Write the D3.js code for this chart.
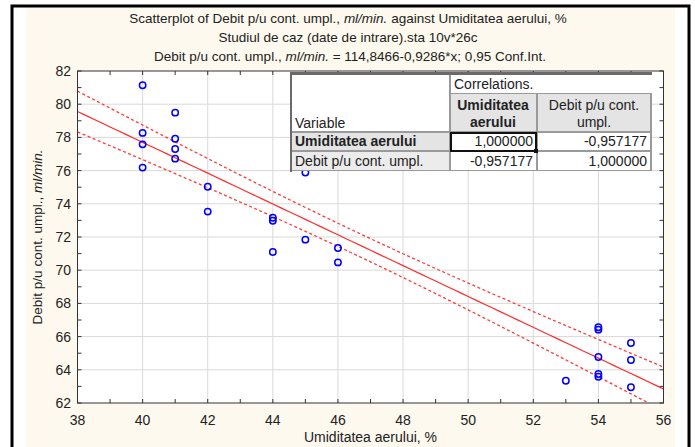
<!DOCTYPE html>
<html>
<head>
<script src="https://cdn.jsdelivr.net/npm/d3@7"></script>
<style>
  body { margin: 0; background: #fff; }
  svg text { font-family: "Liberation Sans", Arial, sans-serif; font-size: 14px; fill: #222; }
  svg text.title { font-size: 13.5px; }
</style>
</head>
<body>
<div id="chart"></div>
<script>
// humidity (x) and flow (y) for the 26 cases
var humidity = [40, 40, 40, 40, 41, 41, 41, 41, 42, 42, 44, 44, 44, 45, 45, 46, 46, 53, 54, 54, 54, 54, 54, 55, 55, 55];
var flow = [81.14, 78.27, 77.58, 76.18, 79.49, 77.92, 77.30, 76.72, 75.03, 73.53, 73.16, 72.98, 71.10, 75.88, 71.84,
            71.34, 70.47, 63.34, 66.56, 66.42, 64.77, 63.75, 63.58, 65.61, 64.59, 62.95];
var fitCoef = [114.8466, -0.9286];   // intercept, slope (from the title)
var xTicks = [38, 40, 42, 44, 46, 48, 50, 52, 54, 56];
var yTicks = [62, 64, 66, 68, 70, 72, 74, 76, 78, 80, 82];

var corrVars = ["Umiditatea aerului", "Debit p/u cont. umpl."];
var corrValues = [["1,000000", "-0,957177"], ["-0,957177", "1,000000"]];

var W = 695, H = 447;
var svg = d3.select("#chart").append("svg").attr("width", W).attr("height", H);

// window frame + cream background
svg.append("rect").attr("x", 0).attr("y", 0).attr("width", W).attr("height", H).attr("fill", "#fff");
svg.append("rect").attr("x", 26).attr("y", 7).attr("width", 649).attr("height", H).attr("fill", "#fdf9ee");
svg.append("rect").attr("x", 12).attr("y", 6).attr("width", 677).attr("height", H + 10)
  .attr("fill", "none").attr("stroke", "#000").attr("stroke-width", 3);

var x = d3.scaleLinear().domain([38, 56]).range([77.5, 663.5]);
var y = d3.scaleLinear().domain([62, 82]).range([403, 71]);

// plot area
svg.append("rect").attr("x", x(38)).attr("y", y(82)).attr("width", x(56) - x(38)).attr("height", y(62) - y(82))
  .attr("fill", "#fff");

// grid
svg.selectAll("line.gx").data(xTicks.slice(1, -1)).enter().append("line").attr("class", "gx")
  .attr("x1", function(d) { return x(d); }).attr("x2", function(d) { return x(d); })
  .attr("y1", y(82)).attr("y2", y(62)).attr("stroke", "#d9d9d9");
svg.selectAll("line.gy").data(yTicks.slice(1, -1)).enter().append("line").attr("class", "gy")
  .attr("y1", function(d) { return y(d); }).attr("y2", function(d) { return y(d); })
  .attr("x1", x(38)).attr("x2", x(56)).attr("stroke", "#d9d9d9");

// inside ticks on all four sides, every unit
var xMinor = d3.range(38, 57), yMinor = d3.range(62, 83);
var tick = 4;
xMinor.forEach(function(v) {
  svg.append("line").attr("x1", x(v)).attr("x2", x(v)).attr("y1", y(62)).attr("y2", y(62) - tick).attr("stroke", "#333");
  svg.append("line").attr("x1", x(v)).attr("x2", x(v)).attr("y1", y(82)).attr("y2", y(82) + tick).attr("stroke", "#333");
});
yMinor.forEach(function(v) {
  svg.append("line").attr("y1", y(v)).attr("y2", y(v)).attr("x1", x(38)).attr("x2", x(38) + tick).attr("stroke", "#333");
  svg.append("line").attr("y1", y(v)).attr("y2", y(v)).attr("x1", x(56)).attr("x2", x(56) - tick).attr("stroke", "#333");
});

// tick labels
svg.selectAll("text.xt").data(xTicks).enter().append("text").attr("class", "xt")
  .attr("x", function(d) { return x(d); }).attr("y", 425).attr("text-anchor", "middle").text(function(d) { return d; });
svg.selectAll("text.yt").data(yTicks).enter().append("text").attr("class", "yt")
  .attr("x", 71).attr("y", function(d) { return y(d) + 5; }).attr("text-anchor", "end").text(function(d) { return d; });

// regression line and 0.95 confidence band
var n = humidity.length;
var mx = d3.mean(humidity);
var sxx = d3.sum(humidity, function(v) { return (v - mx) * (v - mx); });
var sse = d3.sum(humidity, function(v, i) { var r = flow[i] - (fitCoef[0] + fitCoef[1] * v); return r * r; });
var s = Math.sqrt(sse / (n - 2));
var tval = 2.0639;
var xs = d3.range(38, 56.01, 0.25);
function fitAt(v) { return fitCoef[0] + fitCoef[1] * v; }
function halfW(v) { return tval * s * Math.sqrt(1 / n + (v - mx) * (v - mx) / sxx); }

svg.append("clipPath").attr("id", "clip").append("rect")
  .attr("x", x(38)).attr("y", y(82)).attr("width", x(56) - x(38)).attr("height", y(62) - y(82));
var g = svg.append("g").attr("clip-path", "url(#clip)");
var line = d3.line().x(function(d) { return x(d[0]); }).y(function(d) { return y(d[1]); });

g.append("path").attr("d", line(xs.map(function(v) { return [v, fitAt(v)]; })))
  .attr("fill", "none").attr("stroke", "#ff2a2a").attr("stroke-width", 1.2);
[1, -1].forEach(function(sign) {
  g.append("path").attr("d", line(xs.map(function(v) { return [v, fitAt(v) + sign * halfW(v)]; })))
    .attr("fill", "none").attr("stroke", "#ff3a3a").attr("stroke-width", 1.3).attr("stroke-dasharray", "3,2.5");
});

// points
svg.selectAll("circle.pt").data(humidity).enter().append("circle").attr("class", "pt")
  .attr("cx", function(d) { return x(d); })
  .attr("cy", function(d, i) { return y(flow[i]); })
  .attr("r", 3.2).attr("fill", "none").attr("stroke", "#0000ff").attr("stroke-width", 1.5);

// plot frame
svg.append("rect").attr("x", x(38)).attr("y", y(82)).attr("width", x(56) - x(38)).attr("height", y(62) - y(82))
  .attr("fill", "none").attr("stroke", "#333");

// titles
var t = svg.append("g").attr("text-anchor", "middle");
var t1 = t.append("text").attr("class", "title").attr("x", 348).attr("y", 23);
t1.append("tspan").text("Scatterplot of Debit p/u cont. umpl., ");
t1.append("tspan").attr("font-style", "italic").text("ml/min.");
t1.append("tspan").text(" against Umiditatea aerului, %");
t.append("text").attr("class", "title").attr("x", 348).attr("y", 42).text("Studiul de caz (date de intrare).sta 10v*26c");
var t3 = t.append("text").attr("class", "title").attr("x", 350).attr("y", 61);
t3.append("tspan").text("Debit p/u cont. umpl., ");
t3.append("tspan").attr("font-style", "italic").text("ml/min.");
t3.append("tspan").text(" = 114,8466-0,9286*x; 0,95 Conf.Int.");

svg.append("text").attr("x", (x(38) + x(56)) / 2).attr("y", 442).attr("text-anchor", "middle")
  .text("Umiditatea aerului, %");
var yl = svg.append("text").attr("transform", "translate(42," + ((y(62) + y(82)) / 2) + ") rotate(-90)")
  .attr("text-anchor", "middle").style("font-size", "13.5px");
yl.append("tspan").text("Debit p/u cont. umpl.,  ");
yl.append("tspan").attr("font-style", "italic").text("ml/min.");

// correlations table overlay
var tb = svg.append("g");
tb.append("rect").attr("x", 290).attr("y", 72).attr("width", 362).attr("height", 99).attr("fill", "#9a9a9a");
tb.append("rect").attr("x", 290).attr("y", 72).attr("width", 362).attr("height", 3).attr("fill", "#6a6a6a");
tb.append("rect").attr("x", 290).attr("y", 72).attr("width", 2).attr("height", 100).attr("fill", "#6a6a6a");
var colX = [292, 451, 538], colW = [157, 85, 112];
var cells = [
  [292, 75, 157, 56, "#fff"],
  [451, 75, 201, 18, "#fff"],
  [451, 94, 85, 37, "#e4e4e4"],
  [538, 94, 112, 37, "#e4e4e4"],
  [292, 133, 157, 17, "#e4e4e4"],
  [292, 152, 157, 18, "#ececec"],
  [451, 133, 85, 17, "#fff"], [538, 133, 112, 17, "#fff"],
  [451, 152, 85, 18, "#fff"], [538, 152, 112, 18, "#fff"]
];
tb.selectAll("rect.cell").data(cells).enter().append("rect").attr("class", "cell")
  .attr("x", function(d) { return d[0]; }).attr("y", function(d) { return d[1]; })
  .attr("width", function(d) { return d[2]; }).attr("height", function(d) { return d[3]; })
  .attr("fill", function(d) { return d[4]; });
tb.append("text").attr("x", 454).attr("y", 89).text("Correlations.");
tb.append("text").attr("x", 295).attr("y", 128).text("Variable");
tb.append("text").attr("x", 493).attr("y", 110).attr("text-anchor", "middle").attr("font-weight", "bold").text("Umiditatea");
tb.append("text").attr("x", 493).attr("y", 127).attr("text-anchor", "middle").attr("font-weight", "bold").text("aerului");
tb.append("text").attr("x", 594).attr("y", 110).attr("text-anchor", "middle").text("Debit p/u cont.");
tb.append("text").attr("x", 594).attr("y", 127).attr("text-anchor", "middle").text("umpl.");
var rowY = [146, 166];
corrVars.forEach(function(v, i) {
  tb.append("text").attr("x", 295).attr("y", rowY[i]).attr("font-weight", i === 0 ? "bold" : "normal").text(v);
  corrValues[i].forEach(function(c, j) {
    tb.append("text").attr("x", colX[j + 1] + colW[j + 1] - 3).attr("y", rowY[i]).attr("text-anchor", "end").text(c);
  });
});
// selected cell marker
tb.append("rect").attr("x", 451).attr("y", 133).attr("width", 85).attr("height", 18)
  .attr("fill", "none").attr("stroke", "#111").attr("stroke-width", 2);
tb.append("rect").attr("x", 534).attr("y", 149).attr("width", 4).attr("height", 4).attr("fill", "#111");
</script>
</body>
</html>
